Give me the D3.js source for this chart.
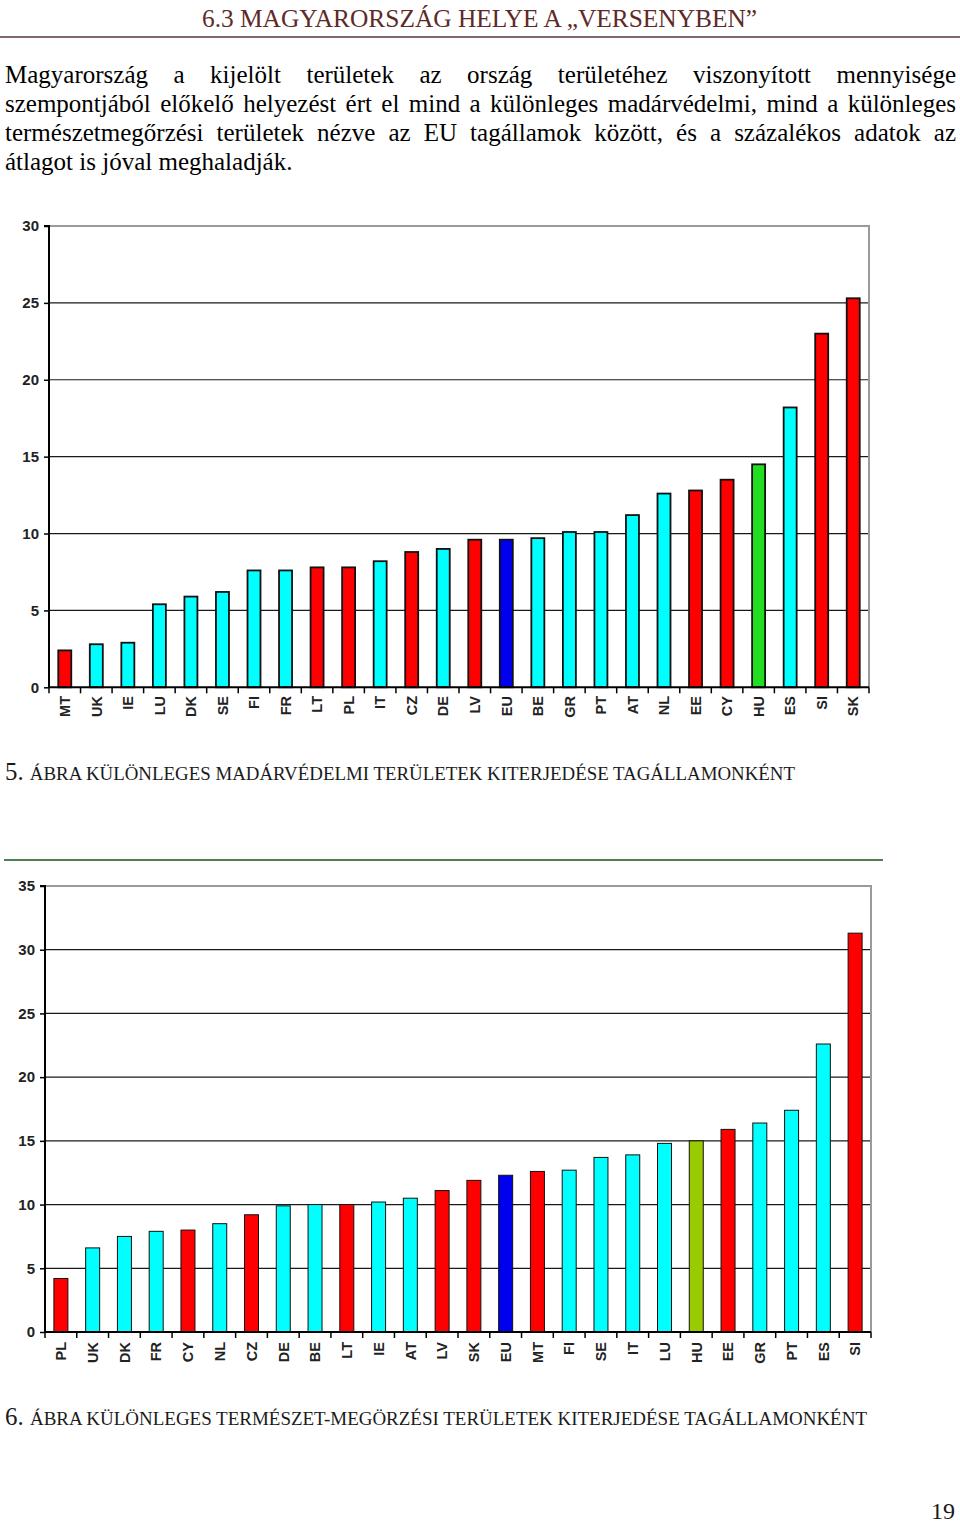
<!DOCTYPE html>
<html>
<head>
<meta charset="utf-8">
<script src="https://cdn.jsdelivr.net/npm/d3@7"></script>
<style>
  html, body { margin: 0; padding: 0; background: #fff; }
  svg { display: block; }
</style>
</head>
<body>
<svg id="page" width="960" height="1523"></svg>
<script>
// ---------------- DATA ----------------
const headerTitle = "6.3 MAGYARORSZÁG HELYE A „VERSENYBEN”";
const paragraphLines = [
  "Magyarország a kijelölt területek az ország területéhez viszonyított mennyisége",
  "szempontjából előkelő helyezést ért el mind a különleges madárvédelmi, mind a különleges",
  "természetmegőrzési területek nézve az EU tagállamok között, és a százalékos adatok az",
  "átlagot is jóval meghaladják."
];

// Chart 1: special bird protection areas (% of territory)
const categories1 = ["MT","UK","IE","LU","DK","SE","FI","FR","LT","PL","IT","CZ","DE","LV","EU","BE","GR","PT","AT","NL","EE","CY","HU","ES","SI","SK"];
const values1     = [2.4, 2.8, 2.9, 5.4, 5.9, 6.2, 7.6, 7.6, 7.8, 7.8, 8.2, 8.8, 9.0, 9.6, 9.6, 9.7, 10.1, 10.1, 11.2, 12.6, 12.8, 13.5, 14.5, 18.2, 23.0, 25.3];
const groups1     = ["new","old","old","old","old","old","old","old","new","new","old","new","old","new","eu","old","old","old","old","old","new","new","hu","old","new","new"];
const yTicks1     = [0, 5, 10, 15, 20, 25, 30];
const caption1Num = "5.";
const caption1    = "ÁBRA KÜLÖNLEGES MADÁRVÉDELMI TERÜLETEK KITERJEDÉSE TAGÁLLAMONKÉNT";

// Chart 2: special nature conservation areas (% of territory)
const categories2 = ["PL","UK","DK","FR","CY","NL","CZ","DE","BE","LT","IE","AT","LV","SK","EU","MT","FI","SE","IT","LU","HU","EE","GR","PT","ES","SI"];
const values2     = [4.2, 6.6, 7.5, 7.9, 8.0, 8.5, 9.2, 9.9, 10.0, 10.0, 10.2, 10.5, 11.1, 11.9, 12.3, 12.6, 12.7, 13.7, 13.9, 14.8, 15.0, 15.9, 16.4, 17.4, 22.6, 31.3];
const groups2     = ["new","old","old","old","new","old","new","old","old","new","old","old","new","new","eu","new","old","old","old","old","hu","new","old","old","old","new"];
const yTicks2     = [0, 5, 10, 15, 20, 25, 30, 35];
const caption2Num = "6.";
const caption2    = "ÁBRA KÜLÖNLEGES TERMÉSZET-MEGÖRZÉSI TERÜLETEK KITERJEDÉSE TAGÁLLAMONKÉNT";

const pageNumber = "19";

// ---------------- DRAW ----------------
const svg = d3.select("#page");
const serif = "'Liberation Serif', 'Times New Roman', serif";
const sans = "'Liberation Sans', Arial, sans-serif";

// Header
svg.append("text")
  .attr("x", 202).attr("y", 27)
  .attr("font-family", serif).attr("font-size", 24.5)
  .attr("fill", "#5e2a28")
  .attr("textLength", 555).attr("lengthAdjust", "spacingAndGlyphs")
  .text(headerTitle);
svg.append("line")
  .attr("x1", 0).attr("x2", 960).attr("y1", 37).attr("y2", 37)
  .attr("stroke", "#806868").attr("stroke-width", 2);

// Justified paragraph
const paraSize = 25;
function justifiedLine(text, x0, x1, y, justify) {
  const words = text.split(" ");
  const g = svg.append("g");
  const nodes = words.map(w => g.append("text")
    .attr("font-family", serif).attr("font-size", paraSize).attr("fill", "#000")
    .attr("y", y).text(w));
  const widths = nodes.map(n => n.node().getComputedTextLength());
  const total = d3.sum(widths);
  let gap;
  if (justify && words.length > 1) gap = (x1 - x0 - total) / (words.length - 1);
  else {
    const sp = g.append("text").attr("font-family", serif).attr("font-size", paraSize).text("a a");
    const sp2 = g.append("text").attr("font-family", serif).attr("font-size", paraSize).text("aa");
    gap = sp.node().getComputedTextLength() - sp2.node().getComputedTextLength();
    sp.remove(); sp2.remove();
  }
  let x = x0;
  nodes.forEach((n, i) => { n.attr("x", x); x += widths[i] + gap; });
}
const paraBaselines = [83, 112, 141, 170];
paragraphLines.forEach((l, i) => justifiedLine(l, 5, 956, paraBaselines[i], i < paragraphLines.length - 1));

const colorScale1 = d3.scaleOrdinal().domain(["new","old","eu","hu"]).range(["#ff0000","#00ffff","#0000ee","#22dd22"]);
const colorScale2 = d3.scaleOrdinal().domain(["new","old","eu","hu"]).range(["#ff0000","#00ffff","#0000ee","#99cc00"]);

function barChart(opt) {
  const {cats, vals, grps, ticks, left, right, top, bottom, yMax, color, barW, strokeW, labelTop} = opt;
  const g = svg.append("g");
  const x = d3.scaleBand().domain(cats).range([left, right]).padding(0);
  const y = d3.scaleLinear().domain([0, yMax]).range([bottom, top]);

  // gridlines
  g.append("g").selectAll("line").data(ticks.filter(t => t > 0 && t < yMax)).join("line")
    .attr("x1", left).attr("x2", right)
    .attr("y1", d => y(d)).attr("y2", d => y(d))
    .attr("stroke", "#1a1a1a").attr("stroke-width", 1.2);
  // frame top/right (gray)
  g.append("path")
    .attr("d", `M${left},${y(yMax)}H${right}V${bottom}`)
    .attr("fill", "none").attr("stroke", "#9a9a9a").attr("stroke-width", 2);

  // bars
  g.append("g").selectAll("rect").data(cats).join("rect")
    .attr("x", d => x(d) + (x.bandwidth() - barW) / 2)
    .attr("width", barW)
    .attr("y", (d, i) => y(vals[i]))
    .attr("height", (d, i) => y(0) - y(vals[i]))
    .attr("fill", (d, i) => color(grps[i]))
    .attr("stroke", "#111").attr("stroke-width", strokeW);

  // y axis
  const yAxis = d3.axisLeft(y).tickValues(ticks).tickSize(5).tickPadding(5).tickFormat(d3.format("d"));
  const ya = g.append("g").attr("transform", `translate(${left},0)`).call(yAxis);
  ya.select(".domain").attr("stroke", "#000").attr("stroke-width", 2).attr("d", `M-5,${y(yMax)}H0V${bottom}`);
  ya.selectAll(".tick line").attr("stroke", "#000").attr("stroke-width", 1.5);
  ya.selectAll(".tick text").attr("font-family", sans).attr("font-weight", "bold")
    .attr("font-size", 15).attr("fill", "#222");

  // x axis line and ticks at band edges
  g.append("line").attr("x1", left).attr("x2", right).attr("y1", bottom).attr("y2", bottom)
    .attr("stroke", "#000").attr("stroke-width", 2);
  const edges = cats.map(c => x(c)).concat([right]);
  g.append("g").selectAll("line").data(edges).join("line")
    .attr("x1", d => d).attr("x2", d => d).attr("y1", bottom).attr("y2", bottom + 6)
    .attr("stroke", "#000").attr("stroke-width", 1.5);
  // x labels rotated
  g.append("g").selectAll("text").data(cats).join("text")
    .attr("transform", d => `translate(${x(d) + x.bandwidth() / 2},${labelTop}) rotate(-90)`)
    .attr("text-anchor", "end").attr("dy", "0.36em")
    .attr("font-family", sans).attr("font-weight", "bold").attr("font-size", 14.5)
    .attr("fill", "#222")
    .text(d => d);
}

barChart({cats: categories1, vals: values1, grps: groups1, ticks: yTicks1,
  left: 49, right: 869, top: 226, bottom: 687.3, yMax: 30, color: colorScale1,
  barW: 13, strokeW: 1.8, labelTop: 696});

// Captions
function caption(num, text, x, y, len) {
  const t = svg.append("text").attr("x", x).attr("y", y)
    .attr("font-family", serif).attr("fill", "#1a1a1a")
    .attr("textLength", len).attr("lengthAdjust", "spacingAndGlyphs");
  t.append("tspan").attr("font-size", 25).text(num + " ");
  t.append("tspan").attr("font-size", 19).text(text);
}
caption(caption1Num, caption1, 5, 780, 790);

// Green separator
svg.append("line").attr("x1", 4).attr("x2", 883).attr("y1", 860).attr("y2", 860)
  .attr("stroke", "#4f7f50").attr("stroke-width", 2);

barChart({cats: categories2, vals: values2, grps: groups2, ticks: yTicks2,
  left: 45, right: 871, top: 886, bottom: 1332, yMax: 35, color: colorScale2,
  barW: 14, strokeW: 1, labelTop: 1342});

caption(caption2Num, caption2, 5, 1425, 862);

// Page number
svg.append("text").attr("x", 955).attr("y", 1519).attr("text-anchor", "end")
  .attr("font-family", serif).attr("font-size", 24).attr("fill", "#1a1a1a")
  .text(pageNumber);
</script>
</body>
</html>
